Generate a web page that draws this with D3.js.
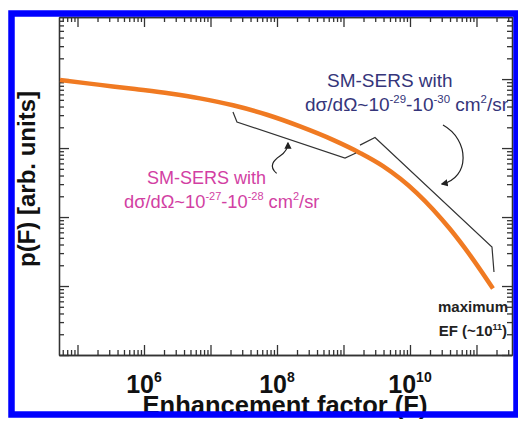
<!DOCTYPE html>
<html>
<head>
<meta charset="utf-8">
<script src="https://cdn.jsdelivr.net/npm/d3@7"></script>
<style>
	body { margin: 0; background: #fff; }
	svg { display: block; font-family: "Liberation Sans", Arial, sans-serif; }
</style>
</head>
<body>
<svg width="518" height="422"></svg>
<script>
// p(F) curve
const enhancement = [5.46e4, 2.18e5, 7.33e5, 2.46e6, 6.95e6, 2.18e7, 7.08e7, 2.22e8, 6.95e8, 1.77e9, 3.93e9, 1.27e10, 4.0e10, 7.98e10, 1.77e11];
const probability = [9680, 8241, 7161, 6166, 5248, 4169, 3041, 2061, 1315, 851, 547, 223, 67.0, 28.1, 9.2];

// tick labels (exponents of 10) on the x axis
const xLabelExps = [6, 8, 10];
const xMajorExps = [5, 6, 7, 8, 9, 10, 11];
const yMajorExps = [0, 1, 2, 3, 4];

// annotation brackets and arrows, in [log10 F, log10 p]
const bracketLow = [[7.338, 3.522], [7.398, 3.377], [9.023, 2.855], [9.188, 2.928]];
const bracketHigh = [[9.248, 3.043], [9.474, 3.152], [11.233, 1.565], [11.263, 1.203]];
const arrowLow = [[7.995, 2.633], [7.865, 2.739], [7.955, 2.826], [8.045, 2.884], [8.165, 3.0], [8.165, 3.072]];
const arrowHigh = [[10.496, 3.333], [10.902, 3.116], [10.902, 2.565], [10.481, 2.478]];

const svg = d3.select('svg');
const plotL = 59, plotR = 512, plotT = 17, plotB = 355;

const x = d3.scaleLog()
	.domain([5.27e4, 3.42e11])
	.range([plotL, plotR]);
const y = d3.scaleLog()
	.domain([1, Math.pow(10, 4.9)])
	.range([plotB, plotT]);

function minors(lo, hi, dom) {
	const out = [];
	for (let d = lo; d <= hi; d++) {
		for (let k = 2; k <= 9; k++) {
			const v = k * Math.pow(10, d);
			if (v >= dom[0] && v <= dom[1]) out.push(v);
		}
	}
	return out;
}
const xMinor = minors(4, 11, x.domain());
const yMinor = minors(0, 4, y.domain());
const xMajor = xMajorExps.map(e => Math.pow(10, e));
const yMajor = yMajorExps.map(e => Math.pow(10, e));

// Axes (ticks pointing in, on all four sides)
const axes = [
	{ gen: d3.axisBottom(x), t: `translate(0,${plotB})`, major: xMajor, minor: xMinor },
	{ gen: d3.axisTop(x), t: `translate(0,${plotT})`, major: xMajor, minor: xMinor },
	{ gen: d3.axisLeft(y), t: `translate(${plotL},0)`, major: yMajor, minor: yMinor },
	{ gen: d3.axisRight(y), t: `translate(${plotR},0)`, major: yMajor, minor: yMinor }
];
axes.forEach(a => {
	svg.append('g')
		.attr('class', 'axis')
		.attr('transform', a.t)
		.call(a.gen.tickValues(a.minor).tickSize(-5).tickSizeOuter(0).tickFormat(''));
	svg.append('g')
		.attr('class', 'axis')
		.attr('transform', a.t)
		.call(a.gen.tickValues(a.major).tickSize(-10).tickSizeOuter(0).tickFormat(''));
});
svg.selectAll('.axis path, .axis line')
	.attr('stroke', '#333')
	.attr('stroke-width', 1.3);

// x tick labels 10^n
const xl = svg.append('g')
	.selectAll('text')
	.data(xLabelExps)
	.enter()
	.append('text')
	.attr('x', d => x(Math.pow(10, d)))
	.attr('y', 393)
	.attr('text-anchor', 'middle')
	.attr('font-weight', 'bold')
	.attr('font-size', 25)
	.attr('fill', '#111');
xl.append('tspan').text('10');
xl.append('tspan').attr('dy', -11).attr('font-size', 14).text(d => d);

// axis titles
svg.append('text')
	.attr('x', 285)
	.attr('y', 414)
	.attr('text-anchor', 'middle')
	.attr('font-weight', 'bold')
	.attr('font-size', 25.5)
	.attr('fill', '#111')
	.text('Enhancement factor (F)');
svg.append('text')
	.attr('transform', 'translate(35,179) rotate(-90)')
	.attr('text-anchor', 'middle')
	.attr('font-weight', 'bold')
	.attr('font-size', 24)
	.attr('fill', '#111')
	.text('p(F) [arb. units]');

// the curve
const line = d3.line()
	.x(d => x(d[0]))
	.y(d => y(d[1]))
	.curve(d3.curveMonotoneX);
svg.append('path')
	.datum(d3.zip(enhancement, probability))
	.attr('d', line)
	.attr('fill', 'none')
	.attr('stroke', '#f07a22')
	.attr('stroke-width', 4.5);

// brackets
const pt = d => [x(Math.pow(10, d[0])), y(Math.pow(10, d[1]))];
const bline = d3.line()
	.x(d => pt(d)[0])
	.y(d => pt(d)[1]);
[bracketLow, bracketHigh].forEach(b => {
	svg.append('path')
		.attr('d', bline(b))
		.attr('fill', 'none')
		.attr('stroke', '#333')
		.attr('stroke-width', 1.2);
});

// curved arrows
svg.append('defs').append('marker')
	.attr('id', 'head')
	.attr('viewBox', '0 0 10 10')
	.attr('refX', 8).attr('refY', 5)
	.attr('markerWidth', 6).attr('markerHeight', 6)
	.attr('orient', 'auto')
	.append('path')
	.attr('d', 'M0,0L10,5L0,10z')
	.attr('fill', '#222');
const a1 = arrowLow.map(pt);
const a2 = arrowHigh.map(pt);
svg.append('path')
	.attr('d', `M${a1[0]}C${a1[1]} ${a1[2]} ${a1[3]}S${a1[4]} ${a1[5]}`)
	.attr('fill', 'none')
	.attr('stroke', '#222')
	.attr('stroke-width', 1.2)
	.attr('marker-end', 'url(#head)');
svg.append('path')
	.attr('d', `M${a2[0]}C${a2[1]} ${a2[2]} ${a2[3]}`)
	.attr('fill', 'none')
	.attr('stroke', '#222')
	.attr('stroke-width', 1.2)
	.attr('marker-end', 'url(#head)');

// annotation texts, with superscripts
function sciText(g, xPos, yPos, parts, size, colour) {
	const t = g.append('text')
		.attr('x', xPos)
		.attr('y', yPos)
		.attr('font-size', size)
		.attr('fill', colour);
	const lift = size * 0.42;
	let raised = false;
	parts.forEach(p => {
		const s = t.append('tspan');
		if (p.sup) {
			s.attr('dy', -lift).attr('font-size', size * 0.6).text(p.sup);
			raised = true;
		} else {
			if (raised) s.attr('dy', lift);
			raised = false;
			s.text(p.t);
		}
	});
	return t;
}
const navy = '#35357a';
const pink = '#d23fa3';
svg.append('text').attr('x', 327).attr('y', 87).attr('font-size', 19).attr('fill', navy).text('SM-SERS with');
sciText(svg, 305, 111, [{ t: 'dσ/dΩ~10' }, { sup: '-29' }, { t: '-10' }, { sup: '-30' }, { t: ' cm' }, { sup: '2' }, { t: '/sr' }], 19, navy);
svg.append('text').attr('x', 147).attr('y', 184).attr('font-size', 18).attr('fill', pink).text('SM-SERS with');
sciText(svg, 124, 208, [{ t: 'dσ/dΩ~10' }, { sup: '-27' }, { t: '-10' }, { sup: '-28' }, { t: ' cm' }, { sup: '2' }, { t: '/sr' }], 18.3, pink);

svg.append('text').attr('x', 508).attr('y', 312).attr('text-anchor', 'end')
	.attr('font-weight', 'bold').attr('font-size', 15).attr('fill', '#222').text('maximum');
const ef = svg.append('text').attr('x', 507).attr('y', 336).attr('text-anchor', 'end')
	.attr('font-weight', 'bold').attr('font-size', 15).attr('fill', '#222');
ef.append('tspan').text('EF (~10');
ef.append('tspan').attr('dy', -6).attr('font-size', 9).text('11');
ef.append('tspan').attr('dy', 6).text(')');

// blue frame
svg.append('rect')
	.attr('x', 11.5)
	.attr('y', 13.5)
	.attr('width', 505)
	.attr('height', 401)
	.attr('fill', 'none')
	.attr('stroke', '#0000ff')
	.attr('stroke-width', 6.5);
</script>
</body>
</html>
